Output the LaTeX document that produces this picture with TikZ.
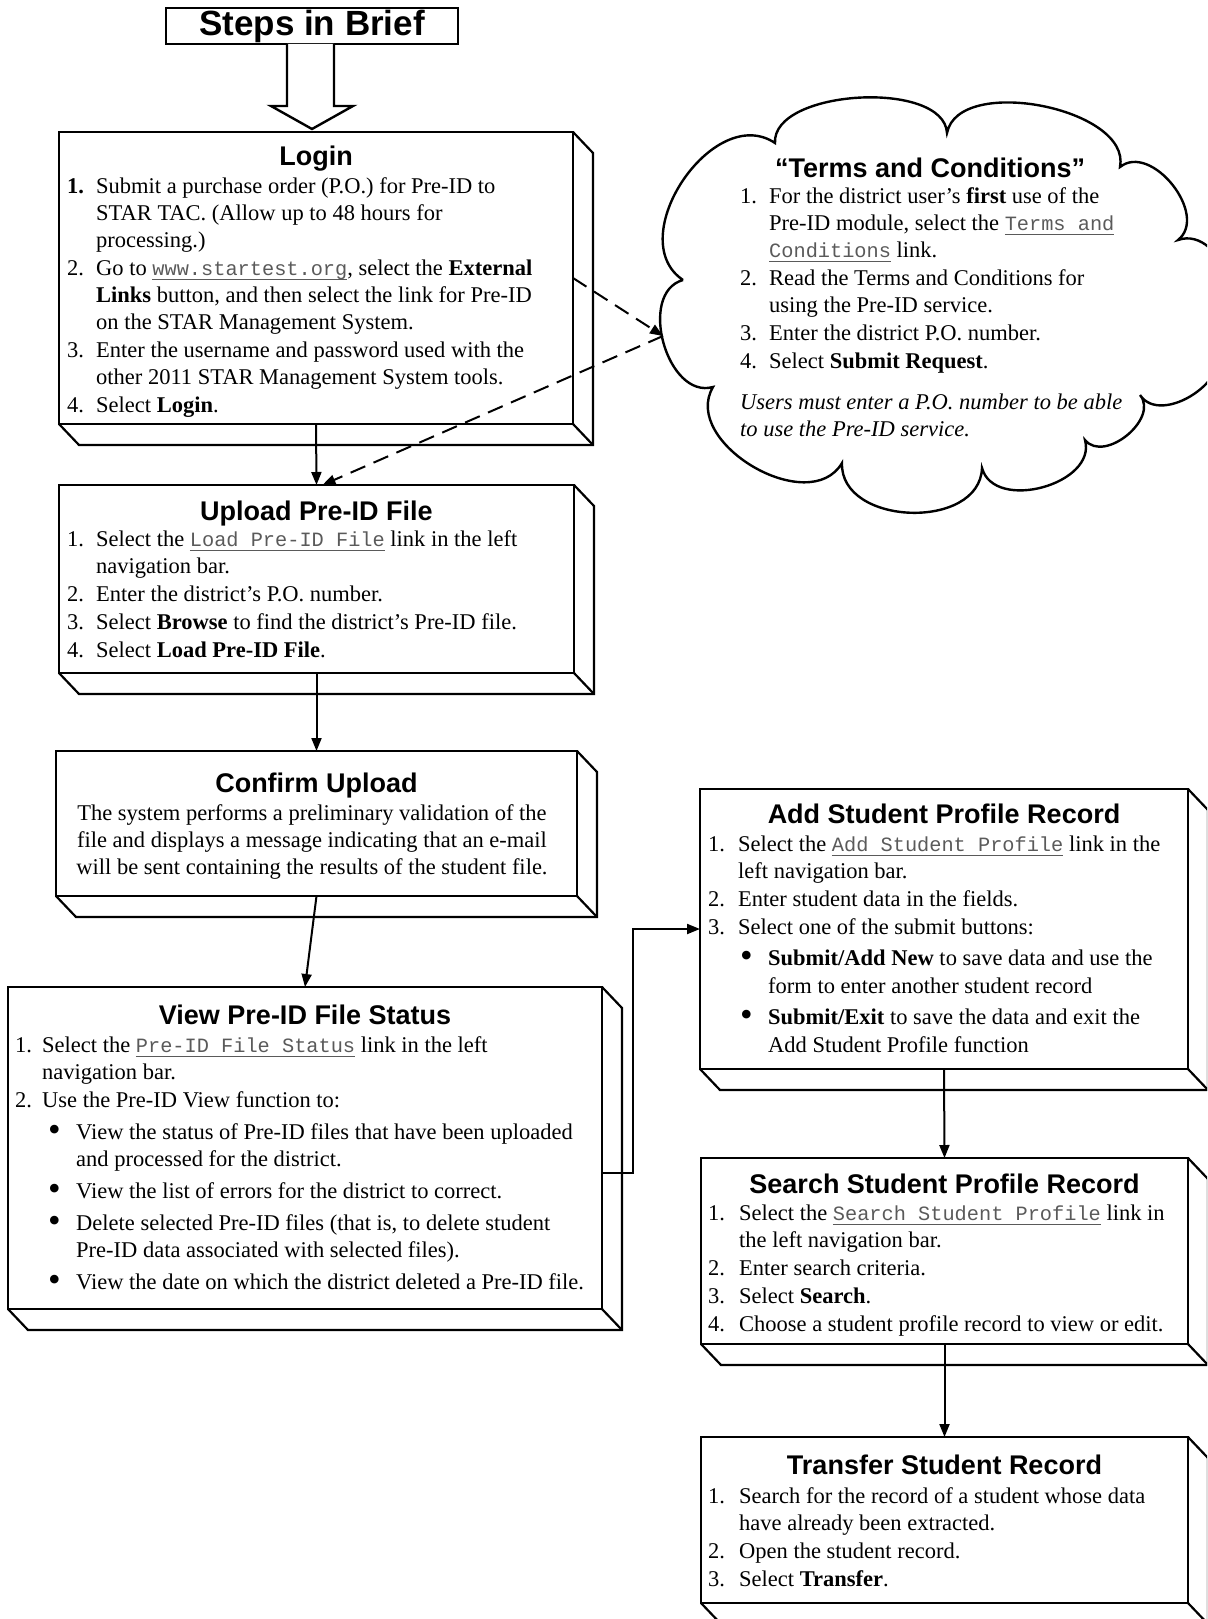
\documentclass[tikz,border=0pt]{standalone}
\usepackage{fontspec}
\setmainfont{Liberation Serif}
\newfontfamily\ttlfont{Liberation Sans}
\newfontfamily\lnkfont{Liberation Mono}
\usetikzlibrary{arrows.meta,calc}
\definecolor{lgray}{HTML}{5A5A5A}
\newcommand\bodysz{\fontsize{22.5}{27}\selectfont}
\newcommand\ttlsz{\ttlfont\bfseries\fontsize{27}{32}\selectfont}
\newcommand\stepsz{\ttlfont\bfseries\fontsize{35}{40}\selectfont}
\newcommand\lnk[1]{\setbox0\hbox{\lnkfont\fontsize{20.3}{27}\selectfont #1}\rlap{\color{lgray}\rule[-5pt]{\wd0}{1.6pt}}{\color{lgray}\box0}}
\newcommand\NI[2]{\makebox[#1][l]{#2}}
\newcommand\HS[1]{\hspace*{#1}}
\newcommand\bul{\smash{\raisebox{-2.2pt}{\scalebox{1.6}{\textbullet}}}}
\newcommand\depthof[1]{%
  \draw[dline] (#1.north east) -- ++(20,21) -- ($(#1.south east)+(20,21)$) -- ($(#1.south west)+(20,21)$) -- (#1.south west);
  \draw[dline] (#1.south east) -- ++(20,21);}
\begin{document}
\begin{tikzpicture}[x=1pt,y=-1pt,line join=miter,
  box/.style={draw, line width=2.6, inner sep=0, outer sep=0},
  dline/.style={line width=2.2},
  conn/.style={line width=2, -{Triangle[length=13,width=10]}},
  dconn/.style={line width=2, dash pattern=on 16 off 9, -{Triangle[length=13,width=10]}},
  ttl/.style={anchor=base, inner sep=0, font=\ttlsz},
  txt/.style={anchor=north west, inner sep=0, align=left, font=\bodysz},
  puff/.style={bend left=90, looseness=#1},
]
\path[use as bounding box] (0,0) rectangle (1207,1619);
\clip (0,0) rectangle (1207,1619);

% title box and hollow arrow
\node[box, minimum width=292, minimum height=36, font=\stepsz] (steps) at (312,26) {Steps in Brief};
\draw[line width=2.4, fill=white] (287,44) -- (287,106) -- (271,106) -- (312,129) -- (353,106) -- (334,106) -- (334,44);

% boxes
\node[box, minimum width=514, minimum height=292] (login) at (316,278) {};
\node[box, minimum width=515, minimum height=188] (upload) at (316.5,579) {};
\node[box, minimum width=521, minimum height=145] (confirm) at (316.5,823.5) {};
\node[box, minimum width=594, minimum height=322] (view) at (305,1148) {};
\node[box, minimum width=488, minimum height=280] (add) at (944,929) {};
\node[box, minimum width=487, minimum height=186] (search) at (944.5,1251) {};
\node[box, minimum width=487, minimum height=166] (transfer) at (944.5,1520) {};
\depthof{login}
\depthof{upload}
\depthof{confirm}
\depthof{view}
\depthof{add}
\depthof{search}
\depthof{transfer}

% cloud
\draw[line width=2.4] (683,280)
  to[puff=1.15] (775,143)
  to[puff=0.8] (947,133)
  to[puff=0.87] (1120,167)
  to[puff=1.1] (1178,240)
  to[puff=1.1] (1215,345)
  to[puff=1.1] (1140,395)
  to[puff=1.1] (1085,440)
  to[puff=1.1] (982,468)
  to[puff=1.15] (842,463)
  to[puff=1.1] (713,387)
  to[puff=1.1] (683,280);
\coordinate (cloudtip) at (663,336);

% titles
\node[ttl] (loginT) at (316,165) {Login};
\node[ttl] (uploadT) at (316.5,520) {Upload Pre-ID File};
\node[ttl] (confirmT) at (316.5,792) {Confirm Upload};
\node[ttl] (viewT) at (305,1024) {View Pre-ID File Status};
\node[ttl] (addT) at (944,823) {Add Student Profile Record};
\node[ttl] (searchT) at (944.5,1193) {Search Student Profile Record};
\node[ttl] (transferT) at (944.5,1474) {Transfer Student Record};
\node[ttl] (cloudT) at (930,177) {“Terms and Conditions”};

% bodies
\node[txt] (loginB) at (67,174) {\strut\NI{29pt}{\textbf{1.}}Submit a purchase order (P.O.) for Pre-ID to\\
\HS{29pt}STAR TAC. (Allow up to 48 hours for\\
\HS{29pt}processing.)\\[1pt]
\NI{29pt}{2.}Go to \lnk{www.startest.org}, select the \textbf{External}\\
\HS{29pt}\textbf{Links} button, and then select the link for Pre-ID\\
\HS{29pt}on the STAR Management System.\\[1pt]
\NI{29pt}{3.}Enter the username and password used with the\\
\HS{29pt}other 2011 STAR Management System tools.\\[1pt]
\NI{29pt}{4.}Select \textbf{Login}.};

\node[txt] (uploadB) at (67,527) {\strut\NI{29pt}{1.}Select the \lnk{Load Pre-ID File} link in the left\\
\HS{29pt}navigation bar.\\[1pt]
\NI{29pt}{2.}Enter the district’s P.O. number.\\[1pt]
\NI{29pt}{3.}Select \textbf{Browse} to find the district’s Pre-ID file.\\[1pt]
\NI{29pt}{4.}Select \textbf{Load Pre-ID File}.};

\node[txt, anchor=north, align=center] (confirmB) at (312,801) {\strut The system performs a preliminary validation of the\\
file and displays a message indicating that an e-mail\\
will be sent containing the results of the student file.};

\node[txt] (viewB) at (15,1033) {\strut\NI{27pt}{1.}Select the \lnk{Pre-ID File Status} link in the left\\
\HS{27pt}navigation bar.\\[1pt]
\NI{27pt}{2.}Use the Pre-ID View function to:\\[5pt]
\HS{33pt}\NI{28pt}{\bul}View the status of Pre-ID files that have been uploaded\\
\HS{61pt}and processed for the district.\\[5pt]
\HS{33pt}\NI{28pt}{\bul}View the list of errors for the district to correct.\\[5pt]
\HS{33pt}\NI{28pt}{\bul}Delete selected Pre-ID files (that is, to delete student\\
\HS{61pt}Pre-ID data associated with selected files).\\[5pt]
\HS{33pt}\NI{28pt}{\bul}View the date on which the district deleted a Pre-ID file.};

\node[txt] (addB) at (708,832) {\strut\NI{30pt}{1.}Select the \lnk{Add Student Profile} link in the\\
\HS{30pt}left navigation bar.\\[1pt]
\NI{30pt}{2.}Enter student data in the fields.\\[1pt]
\NI{30pt}{3.}Select one of the submit buttons:\\[4pt]
\HS{32pt}\NI{28pt}{\bul}\textbf{Submit/Add New} to save data and use the\\[1pt]
\HS{60pt}form to enter another student record\\[4pt]
\HS{32pt}\NI{28pt}{\bul}\textbf{Submit/Exit} to save the data and exit the\\[1pt]
\HS{60pt}Add Student Profile function};

\node[txt] (searchB) at (708,1201) {\strut\NI{31pt}{1.}Select the \lnk{Search Student Profile} link in\\
\HS{31pt}the left navigation bar.\\[1pt]
\NI{31pt}{2.}Enter search criteria.\\[1pt]
\NI{31pt}{3.}Select \textbf{Search}.\\[1pt]
\NI{31pt}{4.}Choose a student profile record to view or edit.};

\node[txt] (transferB) at (708,1484) {\strut\NI{31pt}{1.}Search for the record of a student whose data\\
\HS{31pt}have already been extracted.\\[1pt]
\NI{31pt}{2.}Open the student record.\\[1pt]
\NI{31pt}{3.}Select \textbf{Transfer}.};

\node[txt] (cloudB) at (740,184) {\strut\NI{29pt}{1.}For the district user’s \textbf{first} use of the\\
\HS{29pt}Pre-ID module, select the \lnk{Terms and}\\
\HS{29pt}\lnk{Conditions} link.\\[1pt]
\NI{29pt}{2.}Read the Terms and Conditions for\\
\HS{29pt}using the Pre-ID service.\\[1pt]
\NI{29pt}{3.}Enter the district P.O. number.\\[1pt]
\NI{29pt}{4.}Select \textbf{Submit Request}.\\[14pt]
\textit{Users must enter a P.O. number to be able}\\
\textit{to use the Pre-ID service.}};

% connectors
\draw[conn] (login.south) -- (upload.north);
\draw[conn] (upload.south) -- (confirm.north);
\draw[conn] (confirm.south) -- (view.north);
\draw[conn] ([yshift=-25]view.east) -- ++(31,0) |- (add.west);
\draw[conn] (add.south) -- (search.north);
\draw[conn] (search.south) -- (transfer.north);
\draw[dconn] (login.east) -- (cloudtip);
\draw[dconn] (cloudtip) -- ([xshift=6]upload.north);
\end{tikzpicture}
\end{document}
